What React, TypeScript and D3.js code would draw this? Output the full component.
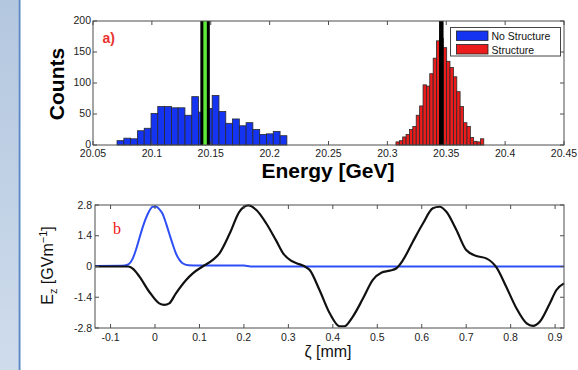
import React from 'react';
import * as d3 from 'd3';

// panel a) histogram
const energyTicks = [20.05, 20.1, 20.15, 20.2, 20.25, 20.3, 20.35, 20.4, 20.45];
const energyTickLabels = ['20.05', '20.1', '20.15', '20.2', '20.25', '20.3', '20.35', '20.4', '20.45'];
const countTicks = [0, 50, 100, 150, 200];

const noStructureBinStart = [
  20.0704, 20.0762, 20.0819, 20.0877, 20.0935, 20.0993, 20.105, 20.1108, 20.1166, 20.1223,
  20.1281, 20.1339, 20.1396, 20.1454, 20.1512, 20.157, 20.1627, 20.1685, 20.1743, 20.18,
  20.1858, 20.1916, 20.1973, 20.2031, 20.2089,
];
const noStructureBinWidth = 0.00577;
const noStructureCounts = [
  7, 11, 10, 23, 27, 51, 62, 62, 60, 60, 48, 78, 53, 59, 80, 54, 35, 42, 31, 36, 25, 17, 18, 22, 15,
];

const structureBinStart = [
  20.3073, 20.3102, 20.313, 20.3159, 20.3188, 20.3216, 20.3245, 20.3274, 20.3303, 20.3331,
  20.336, 20.3389, 20.3417, 20.3446, 20.3475, 20.3503, 20.3532, 20.3561, 20.3589, 20.3618,
  20.3647, 20.3676, 20.3704, 20.3733, 20.3762, 20.379,
];
const structureBinWidth = 0.00287;
const structureCounts = [
  5, 7, 13, 17, 25, 30, 48, 63, 97, 95, 115, 140, 168, 172, 157, 135, 125, 110, 86, 62, 36, 30, 12, 6, 5, 10,
];

const noStructureMean = 20.1452;
const structureMean = 20.3458;

// panel b) fields
const zetaTicks = [-0.1, 0, 0.1, 0.2, 0.3, 0.4, 0.5, 0.6, 0.7, 0.8, 0.9];
const zetaTickLabels = ['-0.1', '0', '0.1', '0.2', '0.3', '0.4', '0.5', '0.6', '0.7', '0.8', '0.9'];
const ezTicks = [-2.8, -1.4, 0, 1.4, 2.8];
const ezTickLabels = ['-2.8', '-1.4', '0', '1.4', '2.8'];

const driveZeta = [
  -0.135, -0.075, -0.06, -0.05, -0.043, -0.035, -0.025, -0.015, -0.005, 0.003, 0.01, 0.017,
  0.025, 0.032, 0.04, 0.047, 0.055, 0.062, 0.075, 0.1, 0.2, 0.215, 0.92,
];
const driveEz = [
  0.02, 0.03, 0.1, 0.37, 0.75, 1.3, 1.95, 2.45, 2.72, 2.72, 2.6, 2.4,
  1.95, 1.5, 1.0, 0.6, 0.3, 0.15, 0.06, 0.04, 0.04, 0.0, 0.0,
];

const wakeZeta = [
  -0.135, -0.06, -0.05, -0.035, -0.013, 0.0095, 0.021, 0.032, 0.047, 0.07, 0.085, 0.107,
  0.13, 0.145, 0.168, 0.19, 0.21, 0.228, 0.25, 0.272, 0.29, 0.305, 0.32, 0.335, 0.348,
  0.37, 0.393, 0.415, 0.426, 0.445, 0.468, 0.49, 0.509, 0.528, 0.543, 0.558, 0.58, 0.603,
  0.625, 0.64, 0.655, 0.678, 0.7, 0.723, 0.745, 0.768, 0.79, 0.813, 0.836, 0.85, 0.866,
  0.888, 0.903, 0.92,
];
const wakeEz = [
  0, 0, -0.1, -0.46, -1.15, -1.68, -1.75, -1.68, -1.22, -0.61, -0.31, 0,
  0.3, 0.6, 1.5, 2.5, 2.78, 2.57, 1.97, 1.2, 0.55, 0.28, 0.14, 0.02, -0.16,
  -1.07, -2.13, -2.72, -2.72, -2.28, -1.45, -0.61, -0.28, -0.19, -0.08, 0.3, 1.13, 1.97,
  2.65, 2.72, 2.5, 1.66, 0.75, 0.48, 0.37, -0.04, -0.92, -1.9, -2.59, -2.7, -2.5,
  -1.68, -1.07, -0.77,
];

const FONT = "'Liberation Sans', Arial, Helvetica, sans-serif";
const AXIS = '#4d4d4d';

export default function App() {
  const xE = d3.scaleLinear().domain([20.05, 20.45]).range([93, 564]);
  const yC = d3.scaleLinear().domain([0, 200]).range([145, 21]);
  const xZ = d3.scaleLinear().domain([-0.135, 0.92]).range([95, 564]);
  const yZ = d3.scaleLinear().domain([-2.8, 2.8]).range([328, 205]);

  const line = d3
    .line<[number, number]>()
    .x(d => xZ(d[0]))
    .y(d => yZ(d[1]))
    .curve(d3.curveMonotoneX);

  const drivePath = line(driveZeta.map((z, i) => [z, driveEz[i]]));
  const wakePath = line(wakeZeta.map((z, i) => [z, wakeEz[i]]));

  const tk = 4;

  const bars = (starts: number[], w: number, counts: number[], fill: string) =>
    starts.map((s, i) => (
      <rect
        key={fill + i}
        x={xE(s)}
        y={yC(counts[i])}
        width={xE(s + w) - xE(s)}
        height={yC(0) - yC(counts[i])}
        fill={fill}
        stroke="#2a2a2a"
        strokeWidth={0.8}
      />
    ));

  return (
    <div style={{ position: 'fixed', left: 0, top: 0 }}>
      <svg width={578} height={370} style={{ display: 'block', background: '#fff' }}>
        <defs>
          <linearGradient id="side" x1="0" y1="0" x2="0" y2="1">
            <stop offset="0" stopColor="#b3c7df" />
            <stop offset="1" stopColor="#cfdcec" />
          </linearGradient>
        </defs>
        <rect x={0} y={0} width={18.5} height={370} fill="url(#side)" />
        <rect x={18.5} y={0} width={2} height={370} fill="#5b87c5" />

        {/* panel a */}
        <g fontFamily={FONT}>
          {bars(noStructureBinStart, noStructureBinWidth, noStructureCounts, '#1434f2')}
          {bars(structureBinStart, structureBinWidth, structureCounts, '#ec1c1c')}

          <line x1={xE(noStructureMean)} x2={xE(noStructureMean)} y1={yC(200)} y2={yC(0)} stroke="#000" strokeWidth={9.5} />
          <line x1={xE(noStructureMean)} x2={xE(noStructureMean)} y1={yC(200)} y2={yC(0)} stroke="#5ee83a" strokeWidth={3.5} />
          <line x1={xE(structureMean)} x2={xE(structureMean)} y1={yC(200)} y2={yC(0)} stroke="#000" strokeWidth={4.5} />

          <rect x={93} y={21} width={564 - 93} height={145 - 21} fill="none" stroke={AXIS} strokeWidth={1} />
          {energyTicks.map((t, i) => (
            <g key={'et' + i}>
              <line x1={xE(t)} x2={xE(t)} y1={yC(0)} y2={yC(0) - tk} stroke={AXIS} />
              <line x1={xE(t)} x2={xE(t)} y1={yC(200)} y2={yC(200) + tk} stroke={AXIS} />
              <text x={xE(t)} y={156.5} fontSize={10.5} textAnchor="middle" fill="#222">
                {energyTickLabels[i]}
              </text>
            </g>
          ))}
          {countTicks.map(t => (
            <g key={'ct' + t}>
              <line x1={93} x2={93 + tk} y1={yC(t)} y2={yC(t)} stroke={AXIS} />
              <line x1={564} x2={564 - tk} y1={yC(t)} y2={yC(t)} stroke={AXIS} />
              <text x={91} y={yC(t) + 3} fontSize={10.5} textAnchor="end" fill="#222">
                {t}
              </text>
            </g>
          ))}
          <text x={328} y={178} fontSize={21} fontWeight="bold" textAnchor="middle" fill="#000">
            Energy [GeV]
          </text>
          <text transform="translate(64,84) rotate(-90)" fontSize={21} fontWeight="bold" textAnchor="middle" fill="#000">
            Counts
          </text>
          <text x={102.5} y={43} fontSize={14} fontWeight="bold" fill="#e8322d">
            a)
          </text>

          <rect x={450.5} y={27.5} width={110} height={28.5} fill="#fff" stroke="#444" />
          <rect x={456.5} y={31} width={31.5} height={9.5} fill="#1434f2" stroke="#222" strokeWidth={0.8} />
          <rect x={456.5} y={44.5} width={31.5} height={9.5} fill="#ec1c1c" stroke="#222" strokeWidth={0.8} />
          <text x={491.5} y={39.5} fontSize={10.5} fill="#111">No Structure</text>
          <text x={491.5} y={53.5} fontSize={10.5} fill="#111">Structure</text>
        </g>

        {/* panel b */}
        <g fontFamily={FONT}>
          <path d={drivePath ?? ''} fill="none" stroke="#2e4ff5" strokeWidth={2} />
          <path d={wakePath ?? ''} fill="none" stroke="#111" strokeWidth={2.2} />

          <rect x={95} y={205} width={564 - 95} height={328 - 205} fill="none" stroke={AXIS} strokeWidth={1} />
          {zetaTicks.map((t, i) => (
            <g key={'zt' + i}>
              <line x1={xZ(t)} x2={xZ(t)} y1={yZ(-2.8)} y2={yZ(-2.8) - tk} stroke={AXIS} />
              <line x1={xZ(t)} x2={xZ(t)} y1={yZ(2.8)} y2={yZ(2.8) + tk} stroke={AXIS} />
              <text x={xZ(t)} y={341} fontSize={10.5} textAnchor="middle" fill="#222">
                {zetaTickLabels[i]}
              </text>
            </g>
          ))}
          {ezTicks.map((t, i) => (
            <g key={'ez' + i}>
              <line x1={95} x2={95 + tk} y1={yZ(t)} y2={yZ(t)} stroke={AXIS} />
              <line x1={564} x2={564 - tk} y1={yZ(t)} y2={yZ(t)} stroke={AXIS} />
              <text x={92} y={yZ(t) + 3.5} fontSize={10.5} textAnchor="end" fill="#222">
                {ezTickLabels[i]}
              </text>
            </g>
          ))}
          <text x={328} y={357} fontSize={16} textAnchor="middle" fill="#111">
            ζ [mm]
          </text>
          <text transform="translate(53,265.5) rotate(-90)" fontSize={16} textAnchor="middle" fill="#111">
            E<tspan fontSize={11} dy={4}>z</tspan>
            <tspan dy={-4}> [GVm</tspan>
            <tspan fontSize={11} dy={-6}>−1</tspan>
            <tspan dy={6}>]</tspan>
          </text>
          <text x={113} y={234} fontSize={16} fontFamily="'Liberation Serif', 'Times New Roman', serif" fill="#ee1111">
            b
          </text>
        </g>
      </svg>
    </div>
  );
}
